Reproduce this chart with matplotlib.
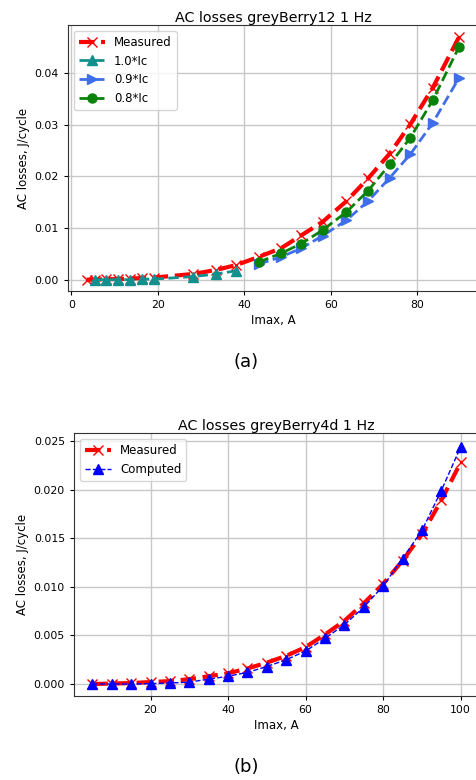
import numpy as np
import matplotlib
matplotlib.use("Agg")
import matplotlib.pyplot as plt

# --- (a) greyBerry12 ---
imax_meas_a = [3.5, 5.4, 8.0, 10.7, 13.6, 16.3, 19.0, 28.2, 33.5, 38.0,
               43.3, 48.5, 53.2, 58.1, 63.6, 68.6, 73.6, 78.4, 83.6, 89.6]
loss_meas_a = [0.0000, 0.0000, 0.0001, 0.0001, 0.0002, 0.0003, 0.0004, 0.0011, 0.0019, 0.0028,
               0.0044, 0.0061, 0.0086, 0.0112, 0.0152, 0.0196, 0.0244, 0.0301, 0.0372, 0.0469]

imax_10 = [5.4, 8.0, 10.7, 13.6, 16.3, 19.0, 28.2, 33.5, 38.0]
loss_10 = [0.0000, 0.0000, 0.0000, 0.0000, 0.0001, 0.0001, 0.0006, 0.0011, 0.0017]

imax_hi = [43.3, 48.5, 53.2, 58.1, 63.6, 68.6, 73.6, 78.4, 83.6, 89.6]
loss_09 = [0.0030, 0.0044, 0.0061, 0.0085, 0.0115, 0.0152, 0.0197, 0.0243, 0.0304, 0.0390]
loss_08 = [0.0034, 0.0051, 0.0070, 0.0096, 0.0131, 0.0172, 0.0223, 0.0275, 0.0348, 0.0450]

# --- (b) greyBerry4d ---
imax_b = [5, 10, 15, 20, 25, 30, 35, 40, 45, 50, 55, 60, 65, 70, 75, 80, 85, 90, 95, 100]
loss_meas_b = [0.0000, 0.00005, 0.0001, 0.0002, 0.0003, 0.0005, 0.0008, 0.0011, 0.0016, 0.0022,
               0.0029, 0.0038, 0.0051, 0.0065, 0.0083, 0.0103, 0.0127, 0.0154, 0.0189, 0.0228]
loss_comp_b = [0.0000, 0.0000, 0.0000, 0.00005, 0.0001, 0.0002, 0.0005, 0.0008, 0.0012, 0.0018,
               0.0025, 0.0034, 0.0047, 0.0061, 0.0079, 0.0101, 0.0129, 0.0158, 0.0199, 0.0244]

plt.rcParams['font.family'] = 'DejaVu Sans'
fs = 7.8      # tick labels
lfs = 8.5     # axis labels / legend
tfs = 10.3    # titles

fig = plt.figure(figsize=(4.76, 7.8), dpi=100)
ax1 = fig.add_axes([0.1429, 0.6269, 0.861, 0.341])
ax2 = fig.add_axes([0.1555, 0.1081, 0.851, 0.3364])

ax1.plot(imax_meas_a, loss_meas_a, 'x--', color='red', lw=3, ms=6.5, label='Measured')
ax1.plot(imax_10, loss_10, '^--', color='#12908e', lw=2, ms=6.5, label='1.0*Ic')
ax1.plot(imax_hi, loss_09, '>--', color='#3f6fe8', lw=2, ms=6.5, label='0.9*Ic')
ax1.plot(imax_hi, loss_08, 'o--', color='#0a820a', lw=2, ms=6.5, label='0.8*Ic')
ax1.set_xlim(-0.8, 94.0)
ax1.set_ylim(-0.0022, 0.0493)
ax1.set_yticks([0, 0.01, 0.02, 0.03, 0.04])
ax1.set_xticks([0, 20, 40, 60, 80])
ax1.set_title('AC losses greyBerry12 1 Hz', fontsize=tfs, pad=1.5)
ax1.set_xlabel('Imax, A', fontsize=lfs, labelpad=3)
ax1.set_ylabel('AC losses, J/cycle', fontsize=lfs, labelpad=3)
ax1.legend(loc='upper left', fontsize=lfs, handlelength=2.2, borderaxespad=0.5)

ax2.plot(imax_b, loss_meas_b, 'x--', color='red', lw=3, ms=6.5, label='Measured')
ax2.plot(imax_b, loss_comp_b, '^--', color='blue', lw=1, ms=6.5, label='Computed')
ax2.set_xlim(0.25, 104.75)
ax2.set_ylim(-0.0012, 0.0258)
ax2.set_xticks([20, 40, 60, 80, 100])
ax2.set_yticks([0, 0.005, 0.01, 0.015, 0.02, 0.025])
ax2.set_title('AC losses greyBerry4d 1 Hz', fontsize=tfs, pad=1.5)
ax2.set_xlabel('Imax, A', fontsize=lfs, labelpad=3)
ax2.set_ylabel('AC losses, J/cycle', fontsize=lfs, labelpad=3)
ax2.legend(loc='upper left', fontsize=lfs, handlelength=2.2, borderaxespad=0.5)

for ax in (ax1, ax2):
    ax.grid(True, color='#c8c8c8', lw=1)
    ax.tick_params(labelsize=fs, length=3, pad=3.5)
    for s in ax.spines.values():
        s.set_color('#333333')

fig.text(0.517, 1 - 362 / 780, '(a)', fontsize=13, ha='center', va='center')
fig.text(0.517, 1 - 767 / 780, '(b)', fontsize=13, ha='center', va='center')

fig.savefig('out.png', dpi=100)
